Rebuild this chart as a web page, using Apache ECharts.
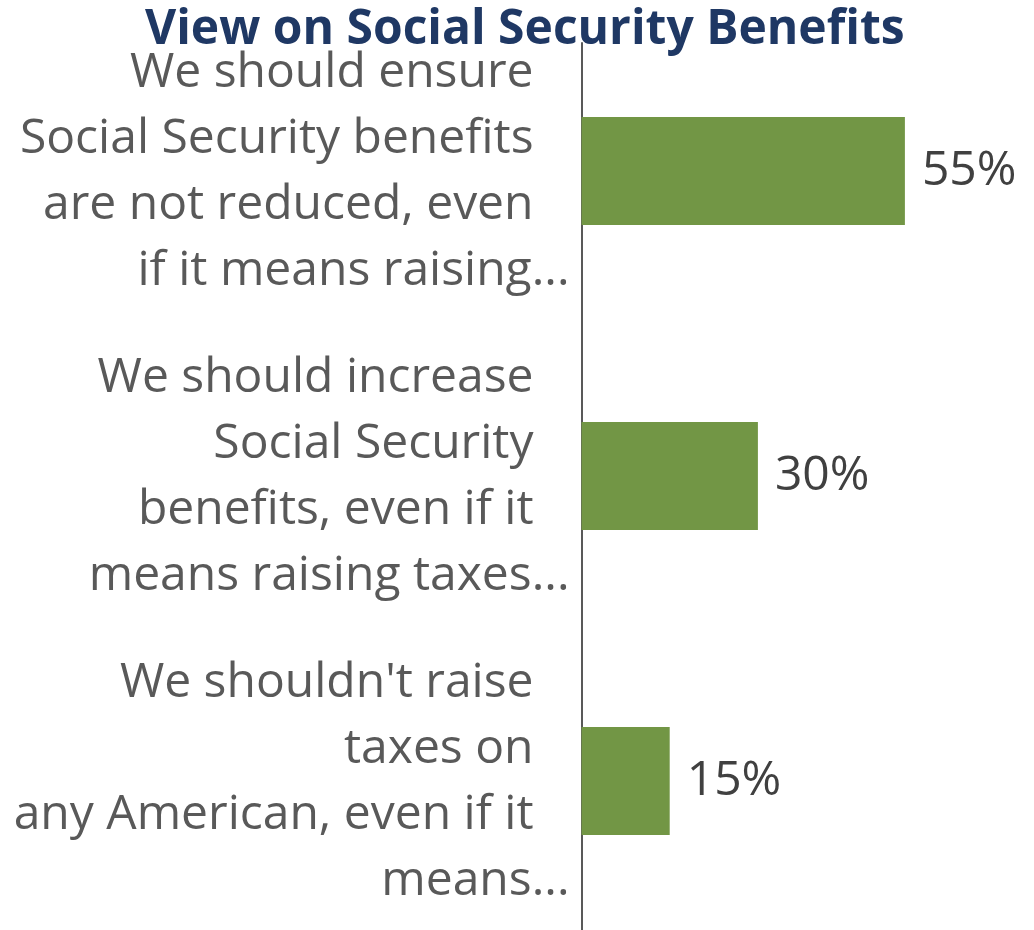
<!DOCTYPE html>
<html>
<head>
<meta charset="utf-8">
<title>View on Social Security Benefits</title>
<script src="https://cdn.jsdelivr.net/npm/echarts@6/dist/echarts.min.js"></script>
<style>
  html, body { margin: 0; padding: 0; background: #fff; }
  #chart { width: 1034px; height: 930px; }
</style>
</head>
<body>
<div id="chart"></div>
<script>
// Survey answers, top to bottom (line breaks as they wrap on the axis)
const categories = [
  "We should ensure\nSocial Security benefits\nare not reduced, even\nif it means raising...",
  "We should increase\nSocial Security\nbenefits, even if it\nmeans raising taxes...",
  "We shouldn't raise\ntaxes on\nany American, even if it\nmeans..."
];
// Share of respondents, percent
const values = [55, 30, 15];
const chartTitle = "View on Social Security Benefits";

const FONT = "'Open Sans', 'DejaVu Sans', sans-serif";
const PLOT_LEFT = 581.5;

const chart = echarts.init(document.getElementById('chart'), null, { renderer: 'canvas' });

chart.setOption({
  backgroundColor: '#ffffff',
  animation: false,
  title: {
    text: chartTitle,
    left: 140,
    top: 0,
    padding: [20, 5, 0, 5],
    textStyle: {
      fontFamily: FONT,
      fontSize: 48,
      fontWeight: 'bold',
      color: '#1f3864',
      lineHeight: 21
    }
  },
  grid: [
    // bars and category labels
    { left: PLOT_LEFT, top: 18.5, width: 352.8, height: 915, outerBoundsMode: 'none' },
    // the vertical spine, starting just under the title
    { left: PLOT_LEFT, top: 43, width: 352.8, bottom: 0, outerBoundsMode: 'none' }
  ],
  xAxis: [
    { type: 'value', gridIndex: 0, min: 0, max: 60, show: false },
    { type: 'value', gridIndex: 1, min: 0, max: 60, show: false }
  ],
  yAxis: [
    {
      type: 'category',
      gridIndex: 0,
      inverse: true,
      data: categories,
      axisTick: { show: false },
      axisLine: { show: false },
      splitLine: { show: false },
      axisLabel: {
        interval: 0,
        margin: 12,
        align: 'right',
        padding: [2, 0, 0, 0],
        formatter: function (label) {
          // lines that were cut short end in "..." and sit a little further right
          return label.split('\n').map(function (line) {
            return /\.\.\.$/.test(line) ? '{e|' + line + '}' : '{p|' + line + '}';
          }).join('\n');
        },
        rich: {
          p: { fontFamily: FONT, fontSize: 48, color: '#595959', lineHeight: 66, align: 'right', padding: [0, 36, 0, 0] },
          e: { fontFamily: FONT, fontSize: 48, color: '#595959', lineHeight: 66, align: 'right' }
        }
      }
    },
    {
      type: 'value',
      gridIndex: 1,
      min: 0,
      max: 1,
      axisLine: { show: true, lineStyle: { color: '#595959', width: 2 } },
      axisTick: { show: false },
      axisLabel: { show: false },
      splitLine: { show: false }
    }
  ],
  series: [{
    type: 'bar',
    xAxisIndex: 0,
    yAxisIndex: 0,
    data: values,
    barWidth: 108,
    itemStyle: { color: '#729645' },
    label: {
      show: true,
      position: 'right',
      distance: 17,
      padding: [12, 0, 0, 0],
      formatter: '{c}%',
      fontFamily: FONT,
      fontSize: 48,
      color: '#404040'
    }
  }]
});
</script>
</body>
</html>
